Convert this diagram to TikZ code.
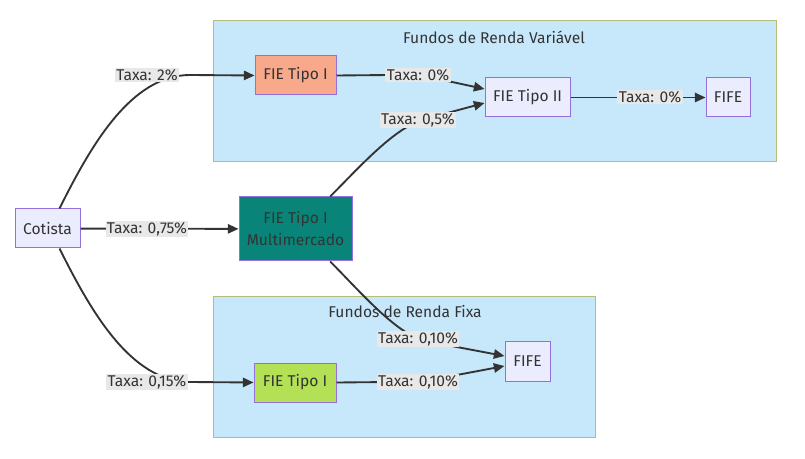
\documentclass[tikz,border=0pt]{standalone}
\usepackage{fontspec}
\setmainfont{Fira Sans}
\usepackage{tikz}
\usetikzlibrary{arrows.meta, positioning, calc}
\definecolor{nodefill}{HTML}{ECECFF}
\definecolor{nodeline}{HTML}{9370DB}
\definecolor{clusterfill}{HTML}{C7E8FB}
\definecolor{clusterline}{HTML}{B5BE78}
\definecolor{tealmm}{HTML}{088578}
\definecolor{salmon1}{HTML}{F9A98B}
\definecolor{lime1}{HTML}{B3E055}
\definecolor{ink}{HTML}{333333}
\definecolor{labelbg}{HTML}{E8E8E8}

\begin{document}
\begin{tikzpicture}[x=0.75pt, y=-0.75pt,
  box/.style={draw=nodeline, line width=0.75pt, fill=nodefill, inner sep=0pt,
    minimum height=29.25pt, align=center, text=ink, font=\fontsize{11.7}{16.5}\selectfont},
  cluster/.style={draw=clusterline, line width=0.75pt, fill=clusterfill},
  edge/.style={-{Triangle[length=8pt, width=7pt]}, line width=1.4pt, ink},
  taxa/.style={fill=labelbg, inner sep=1pt, text=ink, font=\fontsize{11.7}{13}\selectfont}
]
  \useasboundingbox (0,0) rectangle (805,459);

  % subgraphs
  \draw[cluster] (213,21) rectangle (776,162);
  \node[text=ink, font=\fontsize{11.7}{13}\selectfont] (tvar) at (494,37) {Fundos de Renda Variável};
  \draw[cluster] (213,296) rectangle (595,437);
  \node[text=ink, font=\fontsize{11.7}{13}\selectfont] (tfix) at (405,312) {Fundos de Renda Fixa};

  % nodes
  \node[box, minimum width=48.75pt] (cot) at (47.5,228.5) {Cotista};
  \node[box, fill=tealmm, minimum width=84.75pt, minimum height=48pt] (mm) at (295.5,229) {FIE Tipo I\\Multimercado};
  \node[box, fill=salmon1, minimum width=60.75pt] (fie1) at (295.5,75.5) {FIE Tipo I};
  \node[box, minimum width=63.75pt] (fie2) at (527.5,97.5) {FIE Tipo II};
  \node[box, minimum width=33pt] (fifea) at (728,97.5) {FIFE};
  \node[box, fill=lime1, minimum width=61.5pt] (fie3) at (295,382.5) {FIE Tipo I};
  \node[box, minimum width=33.75pt, minimum height=30pt] (fifeb) at (527.5,361) {FIFE};

  % label positions
  \coordinate (l1) at (147,75);
  \coordinate (l2) at (147,229);
  \coordinate (l3) at (147,382);
  \coordinate (l4) at (418,75);
  \coordinate (l5) at (418,120);
  \coordinate (l6) at (650,97);
  \coordinate (l7) at (418,339);
  \coordinate (l8) at (418,382);

  % edges
  \draw[edge] ([xshift=9pt]cot.north) .. controls +(30,-60) and (130,75) .. (190,75) -- (fie1.west);
  \draw[edge] (cot) -- (mm);
  \draw[edge] ([xshift=9pt]cot.south) .. controls +(30,60) and (130,382) .. (190,382) -- (fie3.west);
  \draw[edge] (fie1.east) -- (390,75) .. controls (420,75) .. (fie2.west |- 0,89);
  \draw[edge] ([xshift=26pt]mm.north) .. controls +(30,-30) and (395,127) .. (425,119) -- (fie2.west |- 0,103);
  \draw[edge] (fie2) -- (fifea);
  \draw[edge] ([xshift=26pt]mm.south) .. controls +(30,30) and (395,333) .. (425,341) -- (fifeb.west |- 0,356);
  \draw[edge] (fie3.east) -- (390,382) .. controls (420,382) .. (fifeb.west |- 0,366);

  % labels
  \node[taxa] at (l1) {Taxa: 2\%};
  \node[taxa] at (l2) {Taxa: 0,75\%};
  \node[taxa] at (l3) {Taxa: 0,15\%};
  \node[taxa] at (l4) {Taxa: 0\%};
  \node[taxa] at (l5) {Taxa: 0,5\%};
  \node[taxa] at (l6) {Taxa: 0\%};
  \node[taxa] at (l7) {Taxa: 0,10\%};
  \node[taxa] at (l8) {Taxa: 0,10\%};
\end{tikzpicture}
\end{document}
